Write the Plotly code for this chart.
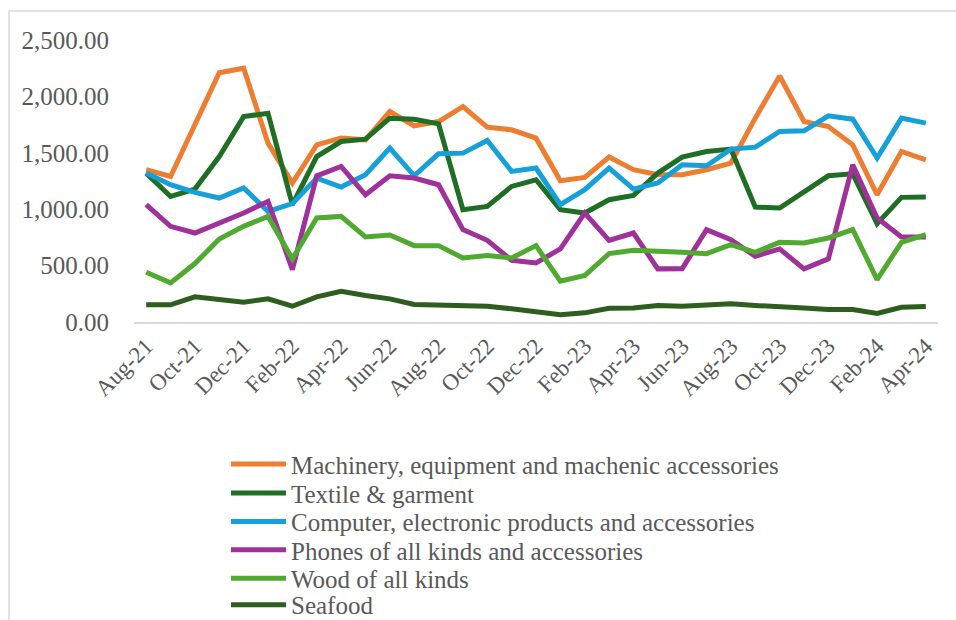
import plotly.graph_objects as go

months = ["Aug-21", "Sep-21", "Oct-21", "Nov-21", "Dec-21", "Jan-22", "Feb-22", "Mar-22",
          "Apr-22", "May-22", "Jun-22", "Jul-22", "Aug-22", "Sep-22", "Oct-22", "Nov-22",
          "Dec-22", "Jan-23", "Feb-23", "Mar-23", "Apr-23", "May-23", "Jun-23", "Jul-23",
          "Aug-23", "Sep-23", "Oct-23", "Nov-23", "Dec-23", "Jan-24", "Feb-24", "Mar-24",
          "Apr-24"]

machinery = [1350, 1290, 1750, 2210, 2250, 1586, 1232, 1571, 1630, 1615, 1866, 1739,
             1777, 1910, 1727, 1704, 1630, 1252, 1282, 1462, 1350, 1305, 1305, 1350,
             1409, 1807, 2181, 1777, 1733, 1571, 1128, 1512, 1438]
textile = [1320, 1113, 1178, 1467, 1821, 1851, 1040, 1467, 1600, 1621, 1807, 1798,
           1757, 996, 1025, 1202, 1261, 996, 966, 1084, 1122, 1320, 1462, 1512,
           1533, 1019, 1010, 1158, 1296, 1314, 872, 1105, 1108]
computer = [1320, 1217, 1149, 1099, 1188, 981, 1049, 1276, 1196, 1305, 1542, 1296,
            1491, 1497, 1609, 1335, 1365, 1040, 1173, 1365, 1178, 1232, 1394, 1385,
            1533, 1550, 1689, 1695, 1828, 1798, 1453, 1807, 1763]
phones = [1040, 848, 789, 878, 966, 1069, 465, 1296, 1379, 1128, 1296, 1276,
          1217, 819, 724, 547, 524, 648, 966, 724, 789, 471, 473, 819,
          730, 583, 648, 471, 559, 1394, 922, 754, 754]
wood = [441, 347, 518, 736, 848, 936, 559, 922, 936, 754, 771, 677,
        677, 568, 589, 568, 677, 361, 412, 606, 636, 630, 618, 606,
        686, 618, 706, 701, 745, 819, 376, 706, 774]
seafood = [152, 152, 223, 199, 175, 205, 140, 223, 273, 235, 205, 155,
           149, 140, 140, 117, 96, 64, 81, 122, 125, 146, 140, 146,
           161, 146, 140, 125, 111, 111, 75, 131, 137]

series = [
    ("Machinery, equipment and machenic accessories", machinery, "#ED7D31"),
    ("Textile & garment", textile, "#1E6E24"),
    ("Computer, electronic products and accessories", computer, "#15A0DA"),
    ("Phones of all kinds and accessories", phones, "#A0309A"),
    ("Wood of all kinds", wood, "#50AA30"),
    ("Seafood", seafood, "#2E5E1E"),
]

FONT = "Liberation Serif"
GREY = "#595959"

# plot-area geometry in pixels
W, H = 956, 620
L, R, T, B = 134, 18, 40, 297.5
pw, ph = W - L - R, H - T - B


def px_x(x):
    return (x - L) / pw


def px_y(y):
    return (H - B - y) / ph


# one single-entry legend per series, stacked with a tight row pitch
legend_rows = [465, 494, 522.5, 551, 579.5, 606]

fig = go.Figure()
legend_layout = {}
for k, ((name, vals, color), row) in enumerate(zip(series, legend_rows)):
    lg = "legend" if k == 0 else f"legend{k + 1}"
    fig.add_trace(go.Scatter(
        x=months, y=vals, name=name, mode="lines",
        line=dict(color=color, width=5),
        legend=lg,
    ))
    legend_layout[lg] = dict(
        x=px_x(226), y=px_y(row), xanchor="left", yanchor="middle",
        xref="paper", yref="paper",
        font=dict(family=FONT, size=25, color=GREY),
        itemwidth=55, bgcolor="rgba(0,0,0,0)",
    )

fig.update_layout(
    width=W, height=H,
    margin=dict(l=L, r=R, t=T, b=B, autoexpand=False),
    paper_bgcolor="white", plot_bgcolor="white",
    font=dict(family=FONT, color=GREY, size=24),
    showlegend=True,
    xaxis=dict(
        type="category", range=[-0.5, 32.5],
        tickmode="array", tickvals=months[::2], ticktext=months[::2],
        tickangle=-45, showgrid=False, zeroline=False,
        showline=True, linecolor="#D9D9D9", linewidth=1.5,
        ticks="", automargin=False,
        tickfont=dict(family=FONT, size=23, color=GREY),
    ),
    yaxis=dict(
        range=[0, 2500], tickvals=[0, 500, 1000, 1500, 2000, 2500],
        tickformat=",.2f", showgrid=False, zeroline=False, showline=False,
        ticks="", ticklabelstandoff=24, automargin=False,
        tickfont=dict(family=FONT, size=25, color=GREY),
    ),
    shapes=[dict(
        type="rect", xref="paper", yref="paper",
        x0=px_x(9), x1=px_x(1100), y0=px_y(800), y1=px_y(11),
        line=dict(color="#D9D9D9", width=1.5), fillcolor="rgba(0,0,0,0)",
        layer="below",
    )],
    **legend_layout,
)

fig.write_html("out.html")
